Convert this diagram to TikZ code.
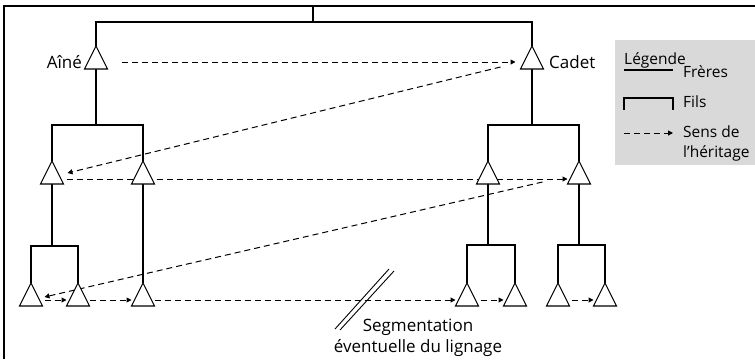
\documentclass[tikz,border=0pt]{standalone}
\usepackage{fontspec}
\setmainfont{Open Sans}
\usetikzlibrary{shapes.geometric,arrows.meta,calc,backgrounds}

\tikzset{
  tri/.style={draw,fill=white,line width=1.1pt,isosceles triangle,isosceles triangle stretches,
    shape border rotate=90,minimum width=23pt,minimum height=23pt,inner sep=0pt,outer sep=0pt,anchor=apex},
  lien/.style={line width=1.1pt},
  herit/.style={line width=1pt,dash pattern=on 6pt off 4pt,-{Triangle[length=5pt,width=5pt]}},
  txt/.style={font=\fontsize{17}{21}\selectfont,inner sep=0pt},
  leg/.style={font=\fontsize{15.5}{20}\selectfont,inner sep=0pt,anchor=base west,align=left}
}

\begin{document}
\begin{tikzpicture}[x=1pt,y=-1pt]
  \useasboundingbox (0,0) rectangle (755,359);
  \draw[line width=1.2pt] (4,359) -- (4,6) -- (755,6);

  \node[tri] (aine) at (96,46) {};
  \node[tri] (cadet) at (532,46) {};
  \node[tri] (l2a) at (52,161) {};
  \node[tri] (l2b) at (143,161) {};
  \node[tri] (l2c) at (488,161) {};
  \node[tri] (l2d) at (579,161) {};
  \node[tri] (l3a) at (31,283) {};
  \node[tri] (l3b) at (78,283) {};
  \node[tri] (l3c) at (143,283) {};
  \node[tri] (l3d) at (467,283) {};
  \node[tri] (l3e) at (515,283) {};
  \node[tri] (l3f) at (558,283) {};
  \node[tri] (l3g) at (605,283) {};

  \node[txt,anchor=base east] (laine) at (82,68) {Aîné};
  \node[txt,anchor=base west] (lcadet) at (549,68) {Cadet};
  \node[txt,align=center] (segm) at (418,338) {Segmentation\\éventuelle du lignage};

  \coordinate (r0) at (313,6);
  \coordinate (r1) at (313,22);
  \coordinate (ja) at (96,125);
  \coordinate (jb) at (532,125);
  \coordinate (jc) at (52,246);
  \coordinate (jd) at (488,245);
  \coordinate (je) at (579,245);

  \begin{scope}[on background layer]
    \fill[gray!30] (615,40) rectangle (755,165);
    \draw[lien] (r0) -- (r1);
    \draw[lien] (aine.apex) |- (r1) -| (cadet.apex);
    \draw[lien] (aine.lower side) -- (ja);
    \draw[lien] (l2a.apex) |- (ja) -| (l2b.apex);
    \draw[lien] (cadet.lower side) -- (jb);
    \draw[lien] (l2c.apex) |- (jb) -| (l2d.apex);
    \draw[lien] (l2a.lower side) -- (jc);
    \draw[lien] (l3a.apex) |- (jc) -| (l3b.apex);
    \draw[lien] (l2b.lower side) -- (l3c.apex);
    \draw[lien] (l2c.lower side) -- (jd);
    \draw[lien] (l3d.apex) |- (jd) -| (l3e.apex);
    \draw[lien] (l2d.lower side) -- (je);
    \draw[lien] (l3f.apex) |- (je) -| (l3g.apex);

    \draw[herit,shorten <=14pt,shorten >=5pt] ([yshift=7pt]aine.right corner) -- ([yshift=7pt]cadet.left corner);
    \draw[herit] ($(cadet.left corner)+(-20,-2)$) -- ($(l2a.right corner)+(4,-11)$);
    \draw[herit,shorten <=3pt] ([yshift=5pt]l2a.right corner) -- ([yshift=5pt]l2d.left corner);
    \draw[herit] ($(l2d.left corner)+(-25,-2)$) -- ($(l3a.right corner)+(2,-9)$);
    \draw[herit,shorten <=2pt] ([yshift=6pt]l3a.right corner) -- ([yshift=6pt]l3b.left corner);
    \draw[herit] ([yshift=6pt]l3b.right corner) -- ([yshift=6pt]l3c.left corner);
    \draw[herit] ([yshift=6pt]l3c.right corner) -- ([yshift=6pt]l3d.left corner);
    \draw[herit,shorten <=2pt] ([yshift=6pt]l3d.right corner) -- ([yshift=6pt]l3e.left corner);
    \draw[herit,shorten <=2pt] ([yshift=6pt]l3f.right corner) -- ([yshift=6pt]l3g.left corner);
  \end{scope}

  \draw[line width=0.9pt] (335,329) -- (389,269);
  \draw[line width=0.9pt] (340,330) -- (394,271);

  % legende
  \node[leg] (legende) at (624,64) {Légende};
  \draw[lien] (624,70) -- (673,70);
  \node[leg] (freres) at (683,77) {Frères};
  \draw[lien] (624,110) |- (673,98) -- (673,110);
  \node[leg] (fils) at (683,107) {Fils};
  \draw[herit] (624,133) -- (673,133);
  \node[leg] (sens) at (683,157) {Sens de\\l'héritage};
\end{tikzpicture}
\end{document}
